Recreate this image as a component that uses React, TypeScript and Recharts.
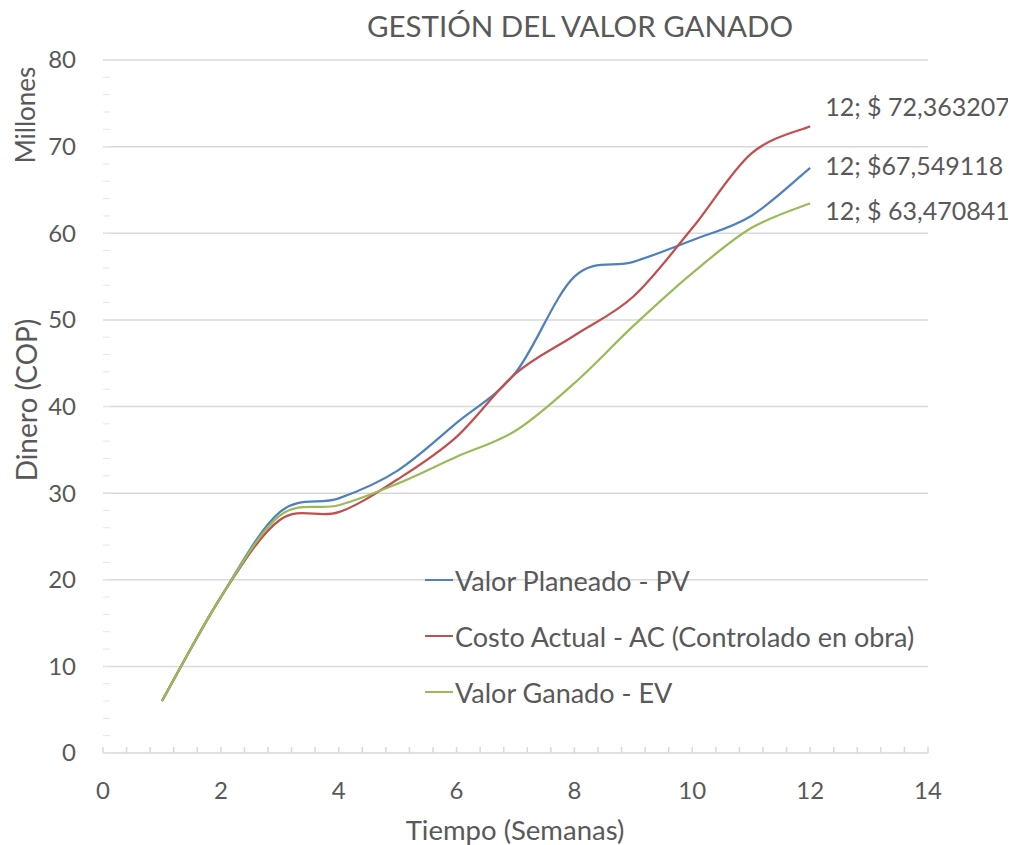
import React from 'react';
import { LineChart, Line, XAxis, YAxis, ReferenceLine, Legend, LabelList } from 'recharts';

// semanas 1..12, valores en millones COP
const weeks = [1, 2, 3, 4, 5, 6, 7, 8, 9, 10, 11, 12];
const plannedValue = [6, 18, 27.8, 29.4, 32.6, 38.1, 43.9, 55.0, 56.7, 59.2, 62.0, 67.549118];
const actualCost = [6, 18, 26.9, 27.8, 31.6, 36.5, 43.8, 48.2, 52.7, 60.6, 69.2, 72.363207];
const earnedValue = [6, 18, 27.4, 28.6, 31.1, 34.2, 37.2, 42.7, 49.3, 55.4, 60.6, 63.470841];

const xLabelTicks = [0, 2, 4, 6, 8, 10, 12, 14];
const yLabelTicks = [0, 10, 20, 30, 40, 50, 60, 70, 80];
const xMinorTicks = Array.from({ length: 36 }, (_, i) => Math.round(i * 4) / 10);
const yMinorTicks = Array.from({ length: 41 }, (_, i) => i * 2);

const endLabelPV = '12; $67,549118';
const endLabelAC = '12; $ 72,363207';
const endLabelEV = '12; $ 63,470841';

const seriesOrder = ['pv', 'ac', 'ev'];

const data = weeks.map((w, i) => ({
  week: w,
  pv: plannedValue[i],
  ac: actualCost[i],
  ev: earnedValue[i],
}));

const FONT = 'Lato, "Noto Sans", sans-serif';
const TEXT = '#595959';
const GRID = '#d9d9d9';

// suavizado tipo Excel (Catmull-Rom con control a 1/6)
const excelSmooth: any = (context: any) => {
  let pts: number[][] = [];
  return {
    areaStart() {},
    areaEnd() {},
    lineStart() {
      pts = [];
    },
    point(x: number, y: number) {
      pts.push([+x, +y]);
    },
    lineEnd() {
      if (!pts.length) return;
      context.moveTo(pts[0][0], pts[0][1]);
      for (let i = 0; i < pts.length - 1; i++) {
        const p0 = pts[i - 1] || pts[i];
        const p1 = pts[i];
        const p2 = pts[i + 1];
        const p3 = pts[i + 2] || p2;
        context.bezierCurveTo(
          p1[0] + (p2[0] - p0[0]) / 6,
          p1[1] + (p2[1] - p0[1]) / 6,
          p2[0] - (p3[0] - p1[0]) / 6,
          p2[1] - (p3[1] - p1[1]) / 6,
          p2[0],
          p2[1]
        );
      }
    },
  };
};

const XTick = (props: any) => {
  const { x, y, payload } = props;
  if (!xLabelTicks.some((t) => Math.abs(payload.value - t) < 1e-6)) return null;
  return (
    <text x={x} y={y} dy="0.35em" textAnchor="middle" fill={TEXT} fontSize={24} fontFamily={FONT}>
      {Math.round(payload.value)}
    </text>
  );
};

const YTick = (props: any) => {
  const { x, y, payload } = props;
  if (!yLabelTicks.includes(payload.value)) return null;
  return (
    <text x={x} y={y} dy="0.35em" textAnchor="end" fill={TEXT} fontSize={24} fontFamily={FONT}>
      {payload.value}
    </text>
  );
};

const endLabel = (text: string, dy: number) => (props: any) => {
  const { x, y, index } = props;
  if (index !== weeks.length - 1) return null;
  return (
    <text x={x + 15} y={y + dy} dy="0.35em" fill={TEXT} fontSize={25} fontFamily={FONT}>
      {text}
    </text>
  );
};

const renderLegend = (props: any) => {
  const items = [...(props.payload || [])].sort(
    (a: any, b: any) => seriesOrder.indexOf(a.dataKey) - seriesOrder.indexOf(b.dataKey)
  );
  return (
    <div style={{ fontFamily: FONT, fontSize: 27, color: TEXT }}>
      {items.map((entry: any) => (
        <div key={entry.value} style={{ display: 'flex', alignItems: 'center', height: 56, whiteSpace: 'nowrap' }}>
          <span style={{ display: 'inline-block', width: 28, borderTop: `2px solid ${entry.color}`, marginRight: 2 }} />
          <span>{entry.value}</span>
        </div>
      ))}
    </div>
  );
};

export default function App() {
  return (
    <div style={{ position: 'relative', width: 1008, height: 837, background: '#fff' }}>
      <style>{'body { margin-bottom: 0; overflow: hidden; }'}</style>
      <LineChart width={1008} height={829} data={data} margin={{ top: 52, right: 88, bottom: 0, left: 0 }}>
        <XAxis
          type="number"
          dataKey="week"
          domain={[0, 14]}
          ticks={xMinorTicks}
          interval={0}
          height={84}
          axisLine={{ stroke: GRID, strokeWidth: 1.5 }}
          tickLine={{ stroke: GRID, strokeWidth: 1.5 }}
          tickSize={-6}
          tickMargin={44}
          tick={<XTick />}
        />
        <YAxis
          type="number"
          domain={[0, 80]}
          ticks={yMinorTicks}
          interval={0}
          width={95}
          axisLine={false}
          tickLine={{ stroke: '#e6e6e6', strokeWidth: 1 }}
          tickSize={-7}
          tickMargin={34}
          tick={<YTick />}
        />
        {yLabelTicks.slice(1).map((v) => (
          <ReferenceLine key={v} y={v} stroke={GRID} strokeWidth={1.5} ifOverflow="extendDomain" />
        ))}
        <Legend
          layout="vertical"
          align="center"
          verticalAlign="middle"
          content={renderLegend}
          wrapperStyle={{ left: 417, top: 544, width: 'auto' }}
        />
        <Line
          name="Valor Planeado - PV"
          dataKey="pv"
          type={excelSmooth}
          stroke="#4f81bd"
          strokeWidth={2.25}
          dot={false}
          isAnimationActive={false}
        >
          <LabelList dataKey="pv" content={endLabel(endLabelPV, -2)} />
        </Line>
        <Line
          name="Costo Actual - AC (Controlado en obra)"
          dataKey="ac"
          type={excelSmooth}
          stroke="#c0504d"
          strokeWidth={2.25}
          dot={false}
          isAnimationActive={false}
        >
          <LabelList dataKey="ac" content={endLabel(endLabelAC, -19)} />
        </Line>
        <Line
          name="Valor Ganado - EV"
          dataKey="ev"
          type={excelSmooth}
          stroke="#9bbb59"
          strokeWidth={2.25}
          dot={false}
          isAnimationActive={false}
        >
          <LabelList dataKey="ev" content={endLabel(endLabelEV, 8)} />
        </Line>
      </LineChart>
      <svg
        width={1008}
        height={837}
        style={{ position: 'absolute', left: 0, top: 0, pointerEvents: 'none' }}
      >
        <text x={572} y={29} textAnchor="middle" fill={TEXT} fontSize={29.5} fontFamily={FONT}>
          GESTIÓN DEL VALOR GANADO
        </text>
        <text
          x={17}
          y={107}
          textAnchor="middle"
          dominantBaseline="central"
          transform="rotate(-90, 17, 107)"
          fill={TEXT}
          fontSize={26}
          fontFamily={FONT}
        >
          Millones
        </text>
        <text
          x={18}
          y={392}
          textAnchor="middle"
          dominantBaseline="central"
          transform="rotate(-90, 18, 392)"
          fill={TEXT}
          fontSize={28}
          fontFamily={FONT}
        >
          Dinero (COP)
        </text>
        <text x={507} y={821} textAnchor="middle" dominantBaseline="central" fill={TEXT} fontSize={27.5} fontFamily={FONT}>
          Tiempo (Semanas)
        </text>
      </svg>
    </div>
  );
}
